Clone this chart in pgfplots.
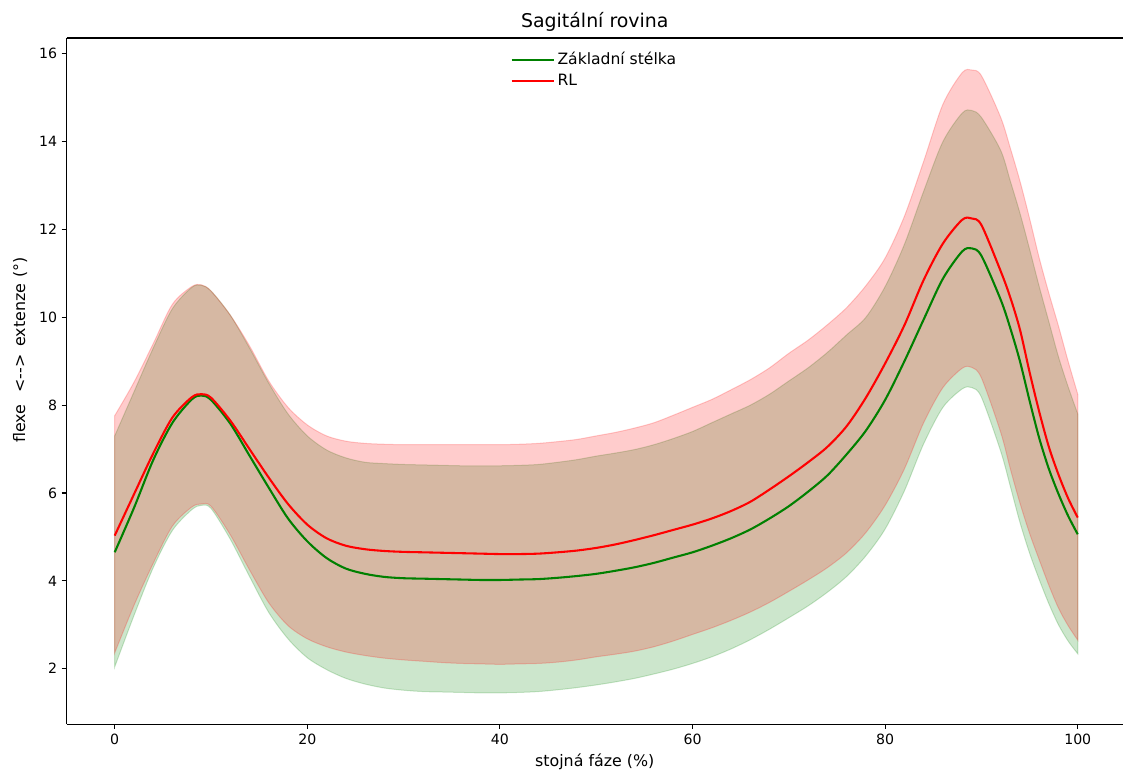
\documentclass[border=0pt]{standalone}
\usepackage{fontspec}
\setmainfont{DejaVu Sans}
\usepackage{pgfplots}
\usepackage{pgfplotstable}
\usepgfplotslibrary{fillbetween}
\pgfplotsset{compat=1.18}
\definecolor{mplgreen}{RGB}{0,128,0}
\definecolor{mplred}{RGB}{255,0,0}

\pgfplotstableread{
x gm gu gl rm ru rl
0 4.65 7.30 2.04 5.03 7.76 2.36
2 5.66 8.30 3.21 5.97 8.52 3.44
4 6.75 9.30 4.30 6.90 9.40 4.40
6 7.60 10.20 5.15 7.72 10.30 5.25
8 8.13 10.68 5.62 8.18 10.70 5.68
9 8.22 10.73 5.72 8.25 10.74 5.75
10 8.12 10.60 5.65 8.17 10.60 5.70
12 7.58 10.05 4.95 7.65 10.05 5.05
14 6.85 9.30 4.10 7.00 9.35 4.25
16 6.12 8.50 3.28 6.35 8.55 3.50
18 5.42 7.80 2.68 5.75 7.95 2.98
20 4.90 7.30 2.25 5.28 7.55 2.68
22 4.52 6.98 1.98 4.97 7.30 2.50
24 4.28 6.80 1.78 4.80 7.18 2.38
26 4.16 6.70 1.65 4.72 7.13 2.30
28 4.09 6.67 1.56 4.68 7.11 2.24
30 4.06 6.65 1.51 4.66 7.10 2.20
32 4.05 6.64 1.48 4.65 7.10 2.17
34 4.04 6.63 1.47 4.64 7.10 2.14
36 4.03 6.62 1.46 4.63 7.10 2.12
38 4.02 6.62 1.45 4.62 7.10 2.11
40 4.02 6.62 1.45 4.61 7.10 2.10
42 4.03 6.63 1.46 4.61 7.11 2.11
44 4.04 6.65 1.48 4.62 7.13 2.12
46 4.07 6.70 1.52 4.65 7.17 2.15
48 4.11 6.76 1.57 4.69 7.22 2.20
50 4.16 6.84 1.63 4.75 7.30 2.27
52 4.23 6.91 1.70 4.83 7.38 2.33
54 4.31 6.99 1.78 4.93 7.48 2.40
56 4.41 7.10 1.88 5.04 7.60 2.50
58 4.53 7.24 1.99 5.16 7.77 2.63
60 4.65 7.40 2.12 5.28 7.95 2.78
62 4.80 7.60 2.27 5.42 8.13 2.93
64 4.97 7.80 2.45 5.59 8.35 3.10
66 5.17 8.00 2.66 5.80 8.58 3.29
68 5.42 8.25 2.90 6.08 8.85 3.51
70 5.70 8.55 3.16 6.38 9.18 3.76
72 6.03 8.85 3.43 6.70 9.48 4.02
74 6.40 9.20 3.74 7.05 9.83 4.30
76 6.88 9.60 4.10 7.52 10.22 4.64
78 7.42 10.00 4.57 8.17 10.72 5.10
80 8.12 10.70 5.18 8.95 11.35 5.72
82 9.00 11.66 6.05 9.82 12.30 6.55
84 9.95 12.87 7.12 10.85 13.55 7.60
86 10.88 14.00 7.95 11.68 14.85 8.40
88 11.50 14.65 8.37 12.22 15.57 8.84
89 11.57 14.71 8.40 12.25 15.63 8.86
90 11.40 14.55 8.18 12.10 15.50 8.62
92 10.40 13.80 6.95 11.05 14.55 7.38
93 9.75 13.10 6.15 10.45 13.85 6.55
94 9.00 12.37 5.33 9.72 13.10 5.77
95 8.10 11.55 4.63 8.75 12.25 5.08
96 7.25 10.70 4.03 7.85 11.35 4.48
97 6.55 9.90 3.48 7.05 10.55 3.90
98 5.98 9.10 3.00 6.42 9.80 3.38
99 5.48 8.42 2.63 5.88 9.00 2.98
100 5.06 7.80 2.34 5.44 8.25 2.65
}\data

\begin{document}
\begin{tikzpicture}
\begin{axis}[
  scale only axis,
  width=793pt, height=515pt,
  xmin=-5, xmax=104.7, ymin=0.74, ymax=16.36,
  axis y line*=left,
  xtick={0,20,40,60,80,100},
  ytick={2,4,6,8,10,12,14,16},
  xtick pos=bottom, ytick pos=left,
  tick align=outside,
  major tick length=3.6pt,
  every tick/.style={black, line width=0.83pt},
  axis line style={line width=0.83pt, black},
  /pgf/number format/assume math mode=true,
  tick label style={font=\fontsize{10.6}{12}\selectfont},
  label style={font=\fontsize{11.9}{14}\selectfont},
  title={Sagitální rovina},
  title style={font=\fontsize{14.2}{17}\selectfont, at={(axis description cs:0.5,1)}, anchor=base, yshift=1.5pt},
  xlabel={stojná fáze (\%)},
  xlabel style={at={(axis description cs:0.5,0)}, anchor=base, yshift=-31.5pt},
  ylabel={flexe\hspace{9pt}<-{}->\hspace{6pt}extenze\hspace{4.5pt}(°)},
  ylabel style={at={(axis description cs:-0.0393,0.545)}, anchor=base, rotate=0},
  legend style={at={(axis description cs:0.5,0.987)}, anchor=north, draw=none, fill=none,
    font=\fontsize{11.7}{14}\selectfont, row sep=1.65pt},
  legend cell align=left,
  legend image code/.code={\draw[#1, line width=1.56pt] (0cm,0cm) -- (0.9cm,0cm); \path (0.9cm,0cm) -- (1.11cm,0cm);},
]
\addplot[name path=gu, draw=none, smooth, forget plot] table[x=x, y=gu]{\data};
\addplot[name path=gl, draw=none, smooth, forget plot] table[x=x, y=gl]{\data};
\addplot[fill=mplgreen, fill opacity=0.2, draw=mplgreen, draw opacity=0.2, line width=0.75pt, forget plot] fill between[of=gu and gl];
\addplot[name path=ru, draw=none, smooth, forget plot] table[x=x, y=ru]{\data};
\addplot[name path=rl, draw=none, smooth, forget plot] table[x=x, y=rl]{\data};
\addplot[fill=mplred, fill opacity=0.2, draw=mplred, draw opacity=0.2, line width=0.75pt, forget plot] fill between[of=ru and rl];
\addplot[mplgreen, line width=1.56pt, smooth] table[x=x, y=gm]{\data};
\addlegendentry{Základní stélka}
\addplot[mplred, line width=1.56pt, smooth] table[x=x, y=rm]{\data};
\addlegendentry{RL}
\end{axis}
\pgfresetboundingbox
\path[use as bounding box] ([xshift=-49.95pt, yshift=-38.25pt]current axis.south west) rectangle ([yshift=28.5pt]current axis.north east);
\end{tikzpicture}
\end{document}
